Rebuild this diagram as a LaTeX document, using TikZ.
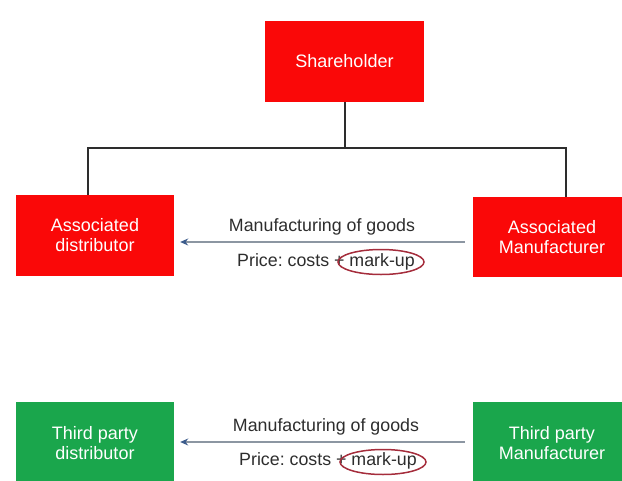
\documentclass[tikz,border=0pt]{standalone}
\usepackage{fontspec}
\setmainfont{Liberation Sans}
\usetikzlibrary{arrows.meta}
\frenchspacing
\definecolor{boxred}{RGB}{250,8,8}
\definecolor{boxgreen}{RGB}{26,166,76}
\definecolor{labelgray}{RGB}{45,45,45}
\definecolor{flowline}{RGB}{140,150,162}
\definecolor{flowtip}{RGB}{60,92,140}
\definecolor{ringred}{RGB}{165,45,60}
\definecolor{linkgray}{RGB}{45,45,45}
\tikzset{
  entity/.style={rectangle, minimum width=158pt, minimum height=81pt,
    inner sep=0pt, align=center, text=white,
    font=\fontsize{18}{20}\selectfont},
  related/.style={entity, fill=boxred},
  independent/.style={entity, fill=boxgreen},
  link/.style={draw=linkgray, line width=1.6pt},
  flow/.style={draw=flowline, line width=1.2pt,
    -{Stealth[length=8pt,width=7pt,color=flowtip]}},
  flowtext/.style={anchor=base, text=labelgray, inner sep=0pt,
    font=\fontsize{17.8}{20}\selectfont},
  ring/.style={draw=ringred, line width=1.5pt}
}
\begin{document}
\begin{tikzpicture}[x=1pt, y=-1pt]
  \useasboundingbox (0,0) rectangle (622,480);
  \clip (0,0) rectangle (622,480);

  % ownership tree
  \node[related, minimum width=159pt] (sh) at (344.5,61.5) {Shareholder};
  \node[related] (ad) at (95,235.5) {Associated\\distributor};
  \node[related, minimum height=80pt] (am) at (552,237) {Associated\\Manufacturer};

  \coordinate (j) at (345,148);
  \draw[link] (sh.south -| j) -- (j);
  \draw[link] (j) -| ([shift={(-7,0)}]ad.north);
  \draw[link] (j) -| ([shift={(14,0)}]am.north);

  % related-party supply
  \draw[flow] ([shift={(-8,5)}]am.west) -- ([shift={(6,6.5)}]ad.east);
  \node[flowtext] (m1) at (322,231) {Manufacturing of goods};
  \node[flowtext] (p1) at (326,266) {Price: costs + mark-up};
  \draw[ring] (381,262) ellipse [x radius=43, y radius=12.5];

  % third-party supply
  \node[independent, minimum height=82pt] (td) at (95,443) {Third party\\distributor};
  \node[independent, minimum height=82pt] (tm) at (552,443) {Third party\\Manufacturer};

  \draw[flow] ([shift={(-8,-1)}]tm.west) -- ([shift={(6,-1)}]td.east);
  \node[flowtext] (m2) at (326,431) {Manufacturing of goods};
  \node[flowtext] (p2) at (328,465) {Price: costs + mark-up};
  \draw[ring] (383,462) ellipse [x radius=43, y radius=12.5];
\end{tikzpicture}
\end{document}
